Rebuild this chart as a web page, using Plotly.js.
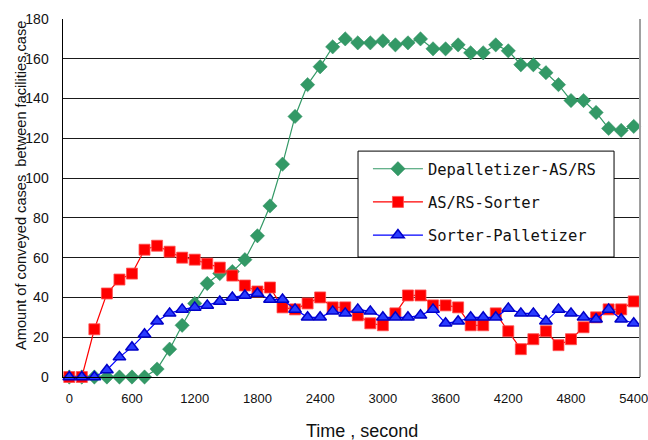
<!DOCTYPE html>
<html>
<head>
<meta charset="utf-8">
<script src="https://cdn.plot.ly/plotly-3.0.1.min.js"></script>
<style>html,body{margin:0;padding:0;background:#fff;}#chart{width:648px;height:440px;}</style>
</head>
<body>
<div id="chart"></div>
<script>
// Time (seconds)
var timeSec = [0,120,240,360,480,600,720,840,960,1080,1200,1320,1440,1560,1680,1800,1920,2040,2160,2280,2400,2520,2640,2760,2880,3000,3120,3240,3360,3480,3600,3720,3840,3960,4080,4200,4320,4440,4560,4680,4800,4920,5040,5160,5280,5400];

var depalletizerASRS = [0,0,0,0,0,0,0,4,14,26,37,47,52,53,59,71,86,107,131,147,156,166,170,168,168,169,167,168,170,165,165,167,163,163,167,164,157,157,153,147,139,139,133,125,124,126];

var asrsSorter = [0,0,24,42,49,52,64,66,63,60,59,57,55,51,46,43,45,35,34,37,40,35,35,31,27,26,32,41,41,36,36,35,26,26,32,23,14,19,23,16,19,25,30,34,34,38];

var sorterPalletizer = [0,0,0,3.5,10,15,21.5,28,32,34,35,36,38,40,41,42,39,39,34,30,30,33,32,34,33,30,30,30,31,34,27,28,30,30,30,34.5,32,32,28,34,32,30,29,34,29,27];

var seriesNames = ["Depalletizer-AS/RS","AS/RS-Sorter","Sorter-Palletizer"];
var xTickLabels = [0,600,1200,1800,2400,3000,3600,4200,4800,5400];
var yTickLabels = [0,20,40,60,80,100,120,140,160,180];

var xTickFont = {family:"Liberation Sans, Arial, sans-serif", size:13, color:"#111"};
var yTickFont = {family:"Liberation Sans, Arial, sans-serif", size:14, color:"#111"};

var traces = [
  {x: timeSec, y: depalletizerASRS, name: seriesNames[0], type:"scatter", mode:"lines+markers",
   legendgroup:"g1", cliponaxis:false,
   line:{color:"#339966", width:1.2},
   marker:{symbol:"diamond", size:11, color:"#339966", line:{color:"#2f8f60", width:0.5}}},
  {x: timeSec, y: asrsSorter, name: seriesNames[1], type:"scatter", mode:"lines+markers",
   legendgroup:"g2", cliponaxis:false,
   line:{color:"#ff0000", width:1.2},
   marker:{symbol:"square", size:11, color:"#ff0000", line:{color:"#ff5050", width:0.8}}},
  {x: timeSec, y: sorterPalletizer, name: seriesNames[2], type:"scatter", mode:"lines+markers",
   legendgroup:"g3", cliponaxis:false,
   line:{color:"#0000ff", width:1.2},
   marker:{symbol:"triangle-up", size:11, color:"#2a3cff", line:{color:"#0000c8", width:1.5}}}
];

var layout = {
  width:648, height:440,
  margin:{l:63, r:8, t:19, b:63},
  paper_bgcolor:"#fff", plot_bgcolor:"#fff",
  showlegend:true,
  xaxis:{
    range:[-60,5460], tickmode:"array", tickvals:xTickLabels, ticktext:xTickLabels.map(String),
    ticks:"", showgrid:false, zeroline:false, showline:true, linecolor:"#000", linewidth:1,
    tickfont:xTickFont, ticklabelstandoff:9, ticklabeloverflow:"allow"
  },
  xaxis2:{
    overlaying:"x", anchor:"y", side:"bottom",
    range:[-60,5460], tickmode:"linear", tick0:-60, dtick:600,
    ticks:"inside", ticklen:5, tickcolor:"#000", tickwidth:1,
    showticklabels:false, showgrid:false, zeroline:false, showline:false
  },
  yaxis:{
    range:[0,180], tickmode:"array", tickvals:yTickLabels, ticktext:yTickLabels.map(String),
    ticks:"", showgrid:true, gridcolor:"#1a1a1a", gridwidth:1, zeroline:false,
    showline:true, linecolor:"#000", linewidth:1.5, tickfont:yTickFont, ticklabelstandoff:10
  },
  legend:{
    x:0.5285, y:0.628, xanchor:"left", yanchor:"top",
    bgcolor:"rgba(0,0,0,0)", borderwidth:0,
    font:{family:"DejaVu Sans Mono, Liberation Mono, monospace", size:15.5, color:"#111"},
    itemwidth:50, tracegroupgap:10, traceorder:"grouped"
  },
  shapes:[
    {type:"line", xref:"paper", yref:"paper", x0:1, x1:1, y0:0, y1:1, line:{color:"#a0a0a0", width:2}},
    {type:"rect", xref:"paper", yref:"paper", x0:0.5113, x1:0.955, y0:0.335, y1:0.631,
     fillcolor:"#fff", line:{color:"#000", width:1}, layer:"above"}
  ],
  annotations:[
    {text:"Amount of conveyed cases\u00a0 between facilities,case", xref:"paper", yref:"paper",
     x:-0.073, y:0.536, xanchor:"center", yanchor:"middle", textangle:-90, showarrow:false,
     font:{family:"Liberation Sans, Arial, sans-serif", size:14.6, color:"#111"}},
    {text:"Time , second", xref:"paper", yref:"paper",
     x:0.518, y:-0.152, xanchor:"center", yanchor:"middle", showarrow:false,
     font:{family:"Liberation Sans, Arial, sans-serif", size:18, color:"#111"}}
  ]
};

Plotly.newPlot("chart", traces, layout, {staticPlot:true, displayModeBar:false});
</script>
</body>
</html>
